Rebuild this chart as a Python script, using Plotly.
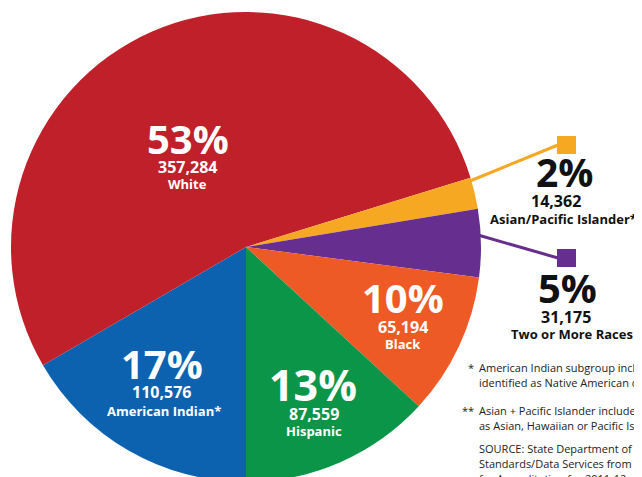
import plotly.graph_objects as go

# ---- data ----
labels = ["American Indian*", "White", "Asian/Pacific Islander**",
          "Two or More Races", "Black", "Hispanic"]
values = [110576, 357284, 14362, 31175, 65194, 87559]
percent_labels = ["17%", "53%", "2%", "5%", "10%", "13%"]
count_labels = ["110,576", "357,284", "14,362", "31,175", "65,194", "87,559"]
colors = ["#0D62B0", "#C0202A", "#F7A823", "#662F8F", "#EE5A25", "#0B9548"]

footnotes = [
    ("*", "American Indian subgroup includes students"),
    ("", "identified as Native American or Alaska Native."),
    ("**", "Asian + Pacific Islander includes students identified"),
    ("", "as Asian, Hawaiian or Pacific Islander."),
    ("", "SOURCE: State Department of Education, Office of"),
    ("", "Standards/Data Services from preliminary data"),
    ("", "for Accreditation for 2011-12; grades K-12."),
]

W, H = 642, 477
OFF = 8  # page body margin: figure is drawn 8px right/down in the window
FONT = "Open Sans"


def px(x):
    return (x - OFF) / W


def py(y):
    return 1 - (y - OFF) / H


# pie: centre (246, 247), radius 235 in window pixels
CX, CY, R = 246, 247, 235

fig = go.Figure()
fig.add_trace(go.Pie(
    labels=labels, values=values, sort=False, direction="clockwise",
    rotation=180, textinfo="none", hoverinfo="label+value",
    marker=dict(colors=colors, line=dict(width=0)),
    domain=dict(x=[px(CX - R), px(CX + R)], y=[py(CY + R), py(CY - R)]),
    showlegend=False,
))

annotations = []


def add_text(x, y, text, size, color, bold=True, xanchor="center"):
    annotations.append(dict(
        x=px(x), y=py(y), xref="paper", yref="paper",
        text=f"<b>{text}</b>" if bold else text,
        showarrow=False, xanchor=xanchor, yanchor="middle",
        font=dict(family=FONT, size=size, color=color),
    ))


# label layout: (x pct, y pct, x num, y num, x label, y label, pct size)
label_pos = {
    0: (162, 367.5, 161.5, 393, 163.5, 411.5, 40),
    1: (187.5, 142.5, 187.5, 168.5, 187.5, 185.5, 40),
    2: (564.5, 175.5, 556, 202.5, 567, 220, 39),
    3: (567, 291, 566, 318, 572, 335, 40),
    4: (403, 301.5, 403, 328.5, 403, 345, 40),
    5: (313, 389, 314, 415, 314, 432, 43),
}
for i, (xp, yp, xn, yn, xl, yl, s) in label_pos.items():
    col = "#111111" if i in (2, 3) else "white"
    add_text(xp, yp - 0.1 * s, percent_labels[i], s, col)
    add_text(xn, yn - 1.5, count_labels[i], 16, col)
    add_text(xl, yl - 1, labels[i], 13, col)

# footnotes
ys = [367, 382, 410, 425, 448, 463, 478]
for (mark, line), y in zip(footnotes, ys):
    if mark:
        annotations.append(dict(
            x=px(476), y=py(y), xref="paper", yref="paper", text=mark,
            showarrow=False, xanchor="right", yanchor="middle",
            font=dict(family=FONT, size=11, color="#222222")))
    add_text(477, y, line, 11, "#222222", bold=False, xanchor="left")

shapes = [
    # leader lines and squares
    dict(type="line", x0=px(470), y0=py(181), x1=px(558), y1=py(145),
         xref="paper", yref="paper", line=dict(color=colors[2], width=3)),
    dict(type="rect", x0=px(557), y0=py(136), x1=px(576), y1=py(154),
         xref="paper", yref="paper", fillcolor=colors[2], line=dict(width=0)),
    dict(type="line", x0=px(478), y0=py(235), x1=px(558), y1=py(258),
         xref="paper", yref="paper", line=dict(color=colors[3], width=3)),
    dict(type="rect", x0=px(557), y0=py(249), x1=px(576), y1=py(267),
         xref="paper", yref="paper", fillcolor=colors[3], line=dict(width=0)),
]

fig.update_layout(
    width=W, height=H, margin=dict(l=0, r=0, t=0, b=0),
    paper_bgcolor="white", plot_bgcolor="white",
    annotations=annotations, shapes=shapes,
)
fig.write_html("out.html")
